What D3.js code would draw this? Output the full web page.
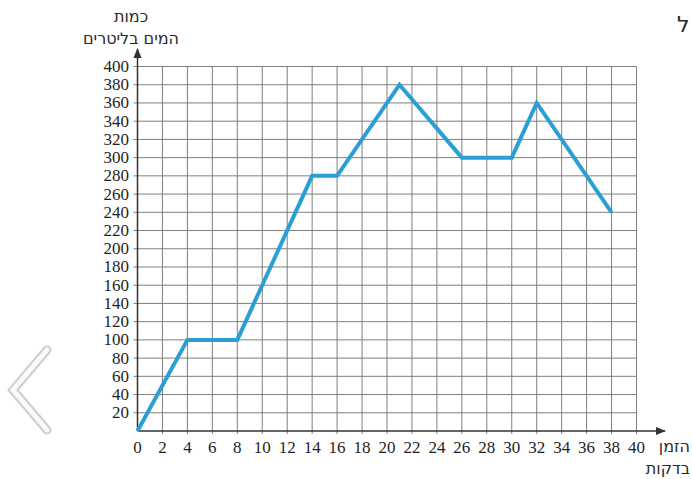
<!DOCTYPE html>
<html lang="he">
<head>
<meta charset="UTF-8">
<title>כמות המים בליטרים</title>
<script src="https://cdn.jsdelivr.net/npm/d3@7"></script>
<style>
  body { margin: 0; background: #fff; }
  svg { display: block; }
  .heb { font-family: "DejaVu Sans", "Noto Sans", sans-serif; font-size: 16px; fill: #2a2a2a; }
</style>
</head>
<body>
<div id="container"></div>
<script>
// data
var minutes = [0, 4, 8, 14, 16, 21, 26, 30, 32, 38];
var liters  = [0, 100, 100, 280, 280, 380, 300, 300, 360, 240];
var xTicks = d3.range(0, 41, 2);
var yTicks = d3.range(20, 401, 20);

var width = 692, height = 479;
var serif = "'Liberation Serif', Times, 'DejaVu Serif', serif";

var svg = d3.select("#container").append("svg")
    .attr("width", width)
    .attr("height", height);

var x = d3.scaleLinear().domain([0, 40]).range([137.5, 636.5]);
var y = d3.scaleLinear().domain([0, 400]).range([431, 66.5]);

// grid
svg.append("g").selectAll("line")
    .data(xTicks.slice(1))
    .enter().append("line")
    .attr("x1", d => x(d)).attr("x2", d => x(d))
    .attr("y1", y(0) + 3).attr("y2", y(400))
    .attr("stroke", "#7f7f7f").attr("stroke-width", 1);

svg.append("g").selectAll("line")
    .data(yTicks)
    .enter().append("line")
    .attr("x1", x(0) - 4).attr("x2", x(40))
    .attr("y1", d => y(d)).attr("y2", d => y(d))
    .attr("stroke", "#7f7f7f").attr("stroke-width", 1);

// axes with arrows
svg.append("defs").append("marker")
    .attr("id", "arrow")
    .attr("viewBox", "0 0 10 10")
    .attr("refX", 9).attr("refY", 5)
    .attr("markerWidth", 7).attr("markerHeight", 7)
    .attr("orient", "auto")
    .append("path").attr("d", "M0,1 L10,5 L0,9 z").attr("fill", "#333");

svg.append("line")
    .attr("x1", x(0)).attr("x2", 665)
    .attr("y1", y(0)).attr("y2", y(0))
    .attr("stroke", "#333").attr("stroke-width", 1.5)
    .attr("marker-end", "url(#arrow)");

svg.append("line")
    .attr("x1", x(0)).attr("x2", x(0))
    .attr("y1", y(0)).attr("y2", 49)
    .attr("stroke", "#333").attr("stroke-width", 1.5)
    .attr("marker-end", "url(#arrow)");

// tick labels
svg.append("g").selectAll("text")
    .data(xTicks)
    .enter().append("text")
    .style("font-family", serif).style("font-size", "17px").attr("fill", "#1f1f1f")
    .attr("x", d => x(d))
    .attr("y", 453)
    .attr("text-anchor", "middle")
    .text(d => d);

svg.append("g").selectAll("text")
    .data(yTicks)
    .enter().append("text")
    .style("font-family", serif).style("font-size", "17px").attr("fill", "#1f1f1f")
    .attr("x", 129)
    .attr("y", d => y(d) + 5.5)
    .attr("text-anchor", "end")
    .text(d => d);

// the line
var line = d3.line()
    .x((d, i) => x(minutes[i]))
    .y(d => y(d));

svg.append("path")
    .datum(liters)
    .attr("d", line)
    .attr("fill", "none")
    .attr("stroke", "#2b9fd3")
    .attr("stroke-width", 4)
    .attr("stroke-linejoin", "miter");

// axis titles
svg.append("text").attr("class", "heb").attr("x", 131).attr("y", 22)
    .attr("text-anchor", "middle").text("כמות");
svg.append("text").attr("class", "heb").attr("x", 131).attr("y", 44)
    .attr("text-anchor", "middle").text("המים בליטרים");
svg.append("text").attr("class", "heb").attr("x", 690).attr("y", 452)
    .attr("text-anchor", "end").text("הזמן");
svg.append("text").attr("class", "heb").attr("x", 690).attr("y", 474)
    .attr("text-anchor", "end").text("בדקות");

// stray letter and back chevron from the page
svg.append("text").attr("class", "heb").attr("x", 677).attr("y", 32)
    .style("font-size", "22px").text("ל");

var chevron = "M47,350 L13,390 L47,430";
svg.append("path").attr("d", chevron).attr("fill", "none")
    .attr("stroke", "#cfcfcf").attr("stroke-width", 9).attr("stroke-linecap", "round");
svg.append("path").attr("d", chevron).attr("fill", "none")
    .attr("stroke", "#fafafa").attr("stroke-width", 5).attr("stroke-linecap", "round");
</script>
</body>
</html>
